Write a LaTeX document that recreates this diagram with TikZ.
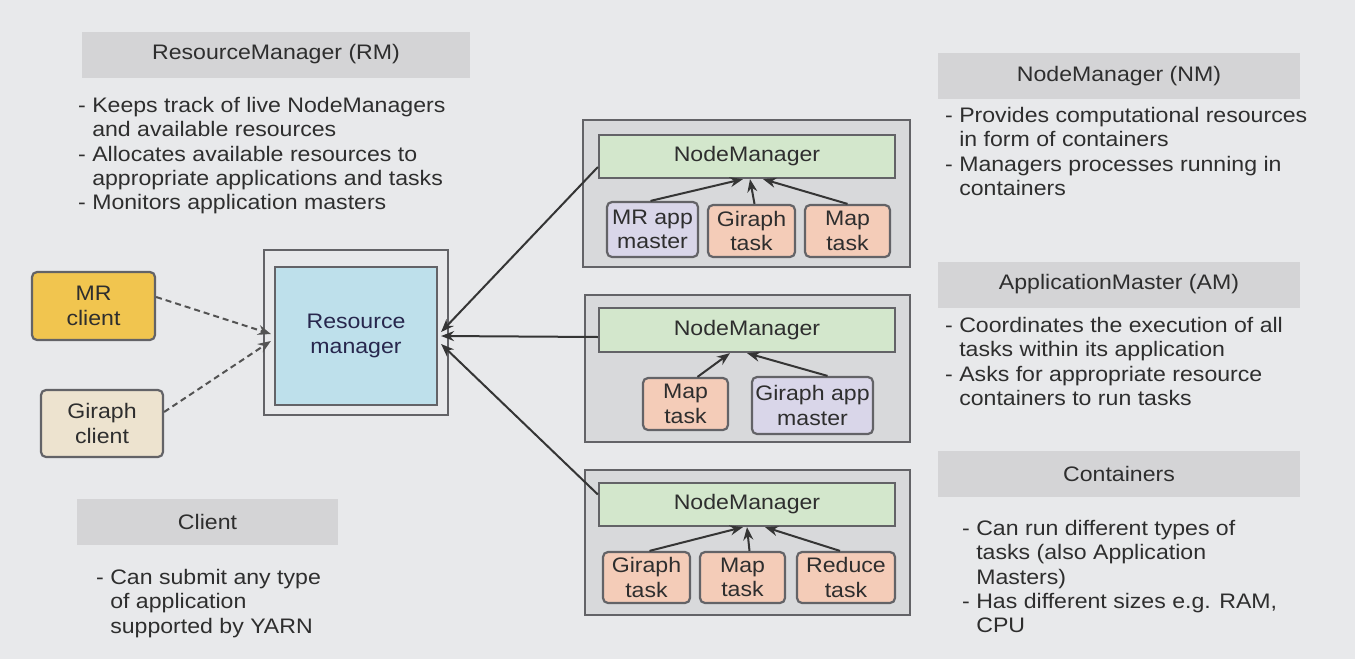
\documentclass[tikz,border=0pt]{standalone}
\usepackage{fontspec}
\setmainfont{Liberation Sans}[FakeStretch=1.1]
\usetikzlibrary{arrows.meta,calc}
\definecolor{bgc}{HTML}{E8E9EB}
\definecolor{hdrgray}{HTML}{D4D4D6}
\definecolor{txt}{HTML}{2E2E2E}
\definecolor{bord}{HTML}{636367}
\definecolor{nmfill}{HTML}{D8D9DB}
\definecolor{nmgreen}{HTML}{D3E7CC}
\definecolor{lav}{HTML}{D9D6E9}
\definecolor{salmon}{HTML}{F4CCB8}
\definecolor{rmblue}{HTML}{BEE0EB}
\definecolor{mry}{HTML}{F1C54F}
\definecolor{beige}{HTML}{EDE3CF}
\definecolor{lin}{HTML}{353535}
\begin{document}
\begin{tikzpicture}[x=1pt,y=-1pt,
  every node/.style={font=\fontsize{21}{24.3}\selectfont, text=txt, inner sep=0pt},
  hdrbox/.style={fill=hdrgray, minimum height=46pt},
  bullets/.style={anchor=north west, align=left},
  cbox/.style={draw=bord, line width=2.2pt, align=center},
  rbox/.style={cbox, rounded corners=5pt},
  nmouter/.style={draw=bord, line width=2.2pt, fill=nmfill},
  arr/.style={draw=lin, line width=2pt, -{Stealth[length=13pt,width=10pt]}},
  darr/.style={draw=lin!85, line width=2pt, dash pattern=on 6pt off 4pt, -{Stealth[length=13pt,width=10pt]}},
]
\useasboundingbox (0,0) rectangle (1355,659);
\fill[bgc] (0,0) rectangle (1355,659);

% headers
\node[hdrbox, minimum width=388pt] (hrm) at (276,54.5) {ResourceManager (RM)};
\node[hdrbox, minimum width=362pt] (hnm) at (1119,76) {NodeManager (NM)};
\node[hdrbox, minimum width=362pt] (ham) at (1119,284.5) {ApplicationMaster (AM)};
\node[hdrbox, minimum width=362pt] (hco) at (1119,473.5) {Containers};
\node[hdrbox, minimum width=261pt] (hcl) at (207.5,522) {Client};

% bullet texts
\node[bullets] (brm) at (78,97) {- Keeps track of live NodeManagers\\\phantom{- }and available resources\\- Allocates available resources to\\\phantom{- }appropriate applications and tasks\\- Monitors application masters};
\node[bullets] (bnm) at (945,107) {- Provides computational resources\\\phantom{- }in form of containers\\- Managers processes running in\\\phantom{- }containers};
\node[bullets] (bam) at (945,317) {- Coordinates the execution of all\\\phantom{- }tasks within its application\\- Asks for appropriate resource\\\phantom{- }containers to run tasks};
\node[bullets] (bco) at (962,520) {- Can run different types of\\\phantom{- }tasks (also Application\\\phantom{- }Masters)\\- Has different sizes e.g. RAM,\\\phantom{- }CPU};
\node[bullets] (bcl) at (96,569) {- Can submit any type\\\phantom{- }of application\\\phantom{- }supported by YARN};

% clients
\node[rbox, fill=mry, minimum width=123pt, minimum height=68pt] (mrc) at (93.5,306) {MR\\client};
\node[rbox, fill=beige, minimum width=122pt, minimum height=67pt] (grc) at (102,423.5) {Giraph\\client};

% resource manager
\node[cbox, minimum width=184pt, minimum height=165pt] (rmo) at (356,332.5) {};
\node[cbox, fill=rmblue, minimum width=162pt, minimum height=138pt, text=txt!85!blue] (rm) at (356,336) {Resource\\manager};

% node manager 1
\node[nmouter, minimum width=327pt, minimum height=147pt] (nmo1) at (746.5,193.5) {};
\node[cbox, fill=nmgreen, minimum width=296pt, minimum height=43pt] (nm1) at (747,156.5) {NodeManager};
\node[rbox, fill=lav, minimum width=91pt, minimum height=55pt] (mram) at (652.5,229.5) {MR app\\master};
\node[rbox, fill=salmon, minimum width=87pt, minimum height=52pt] (git1) at (751.5,231) {Giraph\\task};
\node[rbox, fill=salmon, minimum width=85pt, minimum height=52pt] (mpt1) at (847.5,231) {Map\\task};

% node manager 2
\node[nmouter, minimum width=325pt, minimum height=147pt] (nmo2) at (747.5,368.5) {};
\node[cbox, fill=nmgreen, minimum width=296pt, minimum height=44pt] (nm2) at (747,330) {NodeManager};
\node[rbox, fill=salmon, minimum width=85pt, minimum height=52pt] (mpt2) at (685.5,404) {Map\\task};
\node[rbox, fill=lav, minimum width=121pt, minimum height=57pt] (gam) at (812.5,405.5) {Giraph app\\master};

% node manager 3
\node[nmouter, minimum width=325pt, minimum height=145pt] (nmo3) at (747.5,542.5) {};
\node[cbox, fill=nmgreen, minimum width=296pt, minimum height=43pt] (nm3) at (747,504.5) {NodeManager};
\node[rbox, fill=salmon, minimum width=87pt, minimum height=51pt] (git3) at (646.5,577.5) {Giraph\\task};
\node[rbox, fill=salmon, minimum width=85pt, minimum height=51pt] (mpt3) at (742.5,577.5) {Map\\task};
\node[rbox, fill=salmon, minimum width=98pt, minimum height=51pt] (rdt) at (846,577.5) {Reduce\\task};

% arrows inside node managers
\draw[arr] ($(mram.north)+(-2,0)$) -- ($(nm1.south)+(-4,0)$);
\draw[arr] ($(git1.north)+(3,0)$) -- ($(nm1.south)+(3,0)$);
\draw[arr] (mpt1.north) -- ($(nm1.south)+(16,0)$);
\draw[arr] ($(mpt2.north)+(12,0)$) -- ($(nm2.south)+(-17,0)$);
\draw[arr] ($(gam.north)+(15,0)$) -- (nm2.south);
\draw[arr] ($(git3.north)+(3,0)$) -- ($(nm3.south)+(-4,0)$);
\draw[arr] ($(mpt3.north)+(7,0)$) -- (nm3.south);
\draw[arr] ($(rdt.north)+(-6,0)$) -- ($(nm3.south)+(18,0)$);

% node managers to resource manager
\draw[arr] ($(nm1.west)+(0,10.5)$) -- ($(rm.east)+(3,-4)$);
\draw[arr] ($(nm2.west)+(0,7)$) -- ($(rm.east)+(3,0)$);
\draw[arr] ($(nm3.west)+(0,-10)$) -- ($(rm.east)+(3,8)$);

% clients to resource manager
\draw[darr] ($(mrc.east)+(0,-9)$) -- ($(rm.west)+(-3,-2)$);
\draw[darr] ($(grc.east)+(0,-11.5)$) -- ($(rm.west)+(-3,5)$);
\end{tikzpicture}
\end{document}
